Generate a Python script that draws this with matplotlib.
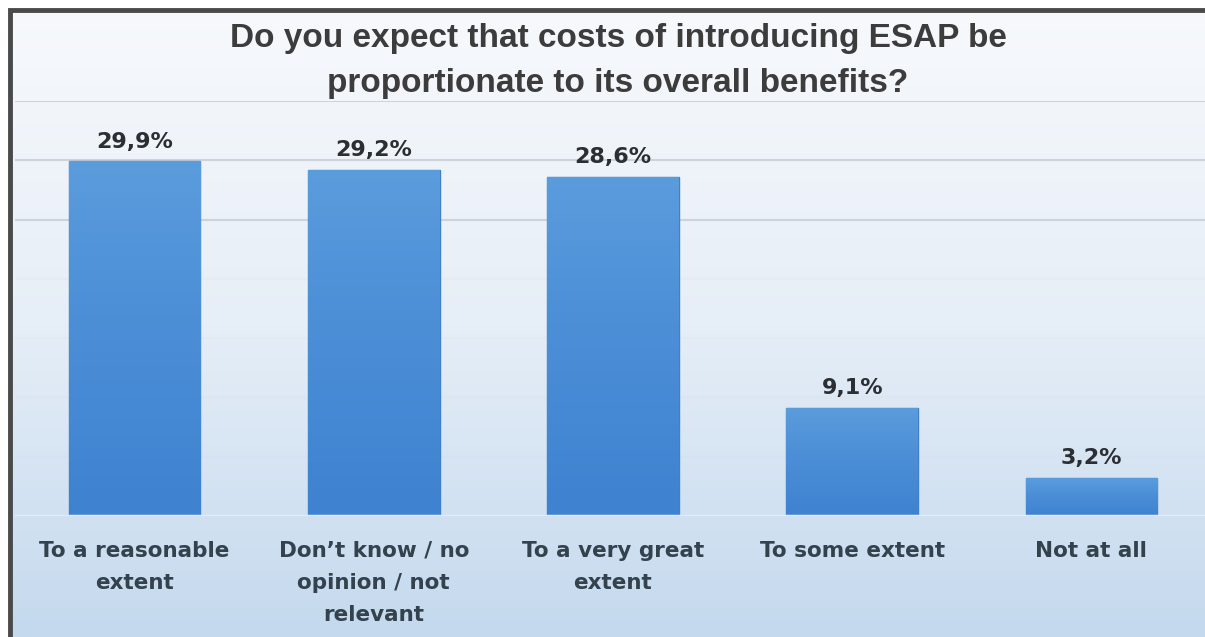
import numpy as np
import matplotlib.pyplot as plt
from matplotlib.colors import LinearSegmentedColormap
from matplotlib.lines import Line2D

categories = ["To a reasonable\nextent",
              "Don\u2019t know / no\nopinion / not\nrelevant",
              "To a very great\nextent",
              "To some extent",
              "Not at all"]
shares = [29.9, 29.2, 28.6, 9.1, 3.2]
value_labels = ["29,9%", "29,2%", "28,6%", "9,1%", "3,2%"]
title = "Do you expect that costs of introducing ESAP be\nproportionate to its overall benefits?"

W, H = 1205, 637


def fx(px):
    return px / W


def fy(py):
    return 1 - py / H


fig = plt.figure(figsize=(W / 100, H / 100), dpi=100)

# background: white strip on top, framed panel with a soft blue gradient
bg = fig.add_axes([0, 0, 1, 1], zorder=-2)
bg_cmap = LinearSegmentedColormap.from_list("bg", ["#f7f9fc", "#e6eef7", "#c4d9ee"])
grad = np.linspace(0, 1, 256).reshape(-1, 1)
bg.imshow(grad, cmap=bg_cmap, extent=[10, W, H, 10], aspect="auto")
bg.set_xlim(0, W)
bg.set_ylim(H, 0)
bg.axis("off")
fig.add_artist(Line2D([fx(10), fx(10), 1], [0, fy(10), fy(10)],
                      color="#4a4a4a", lw=3.5, solid_joinstyle="miter"))

ax = fig.add_axes([fx(15), fy(516), fx(1211 - 15), (516 - 101) / H])
ax.patch.set_alpha(0)
x = np.arange(len(categories))
bars = ax.bar(x, shares, width=0.55, color="#4d8fd6", edgecolor="#3f80c8",
              linewidth=1, zorder=3)

bar_cmap = LinearSegmentedColormap.from_list("bar", ["#5a9cdc", "#4b8dd6", "#3e82d0"])
for rect in bars:
    x0 = rect.get_x()
    im = ax.imshow(grad, cmap=bar_cmap,
                   extent=[x0, x0 + rect.get_width(), 0, rect.get_height()],
                   aspect="auto", zorder=3.5, origin="upper")
    im.set_clip_path(rect)

ax.set_xlim(-0.5, len(categories) - 0.5)
ax.set_ylim(0, 35)

# gridlines fade out towards the bottom of the panel
for yv in range(5, 36, 5):
    alpha = 1.0 if yv >= 25 else 0.12
    ax.axhline(yv, color="#cdd3d9", lw=1.5, alpha=alpha, zorder=0)
ax.axhline(0, color="#e2ecf5", lw=2.5, zorder=4)
for s in ax.spines.values():
    s.set_visible(False)
ax.set_yticks([])
ax.tick_params(length=0, labelleft=False)
ax.set_xticks(x)
ax.set_xticklabels(categories, fontsize=15.5, fontweight="bold", color="#33424c",
                   linespacing=1.75, va="top")
ax.tick_params(axis="x", pad=18)

for rect, lbl in zip(bars, value_labels):
    ax.annotate(lbl, (rect.get_x() + rect.get_width() / 2, rect.get_height()),
                xytext=(0, 7), textcoords="offset points", ha="center",
                va="bottom", fontsize=16, fontweight="bold", color="#2b2f33",
                zorder=5)

fig.text(fx(618), fy(61), title, ha="center", va="center", fontsize=24,
         fontweight="bold", color="#3c3c3c",
         family=["Liberation Sans Narrow", "Liberation Sans", "DejaVu Sans"],
         linespacing=1.6)

fig.savefig("out.png", dpi=100)
